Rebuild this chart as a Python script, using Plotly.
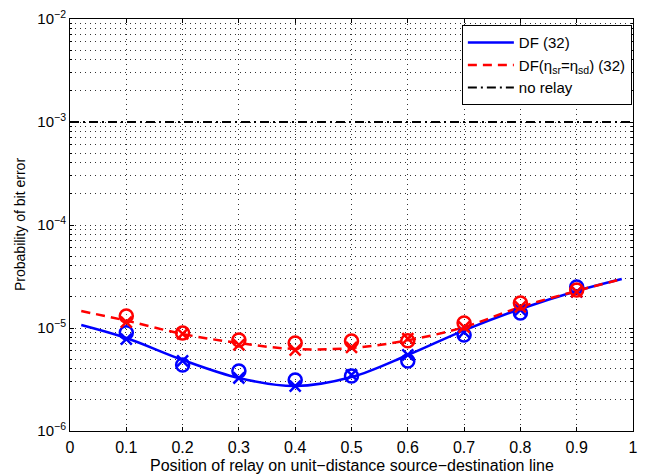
import plotly.graph_objects as go

# Curves (analytic)
x_curve = [0.02, 0.1, 0.2, 0.3, 0.4, 0.5, 0.6, 0.7, 0.8, 0.9, 0.98]
df_curve = [1.07e-5, 8.0e-6, 4.9e-6, 3.27e-6, 2.73e-6, 3.34e-6, 5.47e-6, 9.5e-6, 1.53e-5, 2.29e-5, 2.99e-5]
dfeq_curve = [1.46e-5, 1.18e-5, 8.75e-6, 7.14e-6, 6.25e-6, 6.4e-6, 7.6e-6, 1.02e-5, 1.6e-5, 2.29e-5, 2.99e-5]
x_norelay = [0.0, 1.0]
norelay = [1e-3, 1e-3]

# Markers
x_pts = [0.1, 0.2, 0.3, 0.4, 0.5, 0.6, 0.7, 0.8, 0.9]
df_circ = [9.0e-6, 4.38e-6, 3.83e-6, 3.13e-6, 3.42e-6, 4.79e-6, 8.55e-6, 1.4e-5, 2.5e-5]
df_x = [7.8e-6, 4.8e-6, 3.27e-6, 2.73e-6, 3.5e-6, 5.47e-6, 9.1e-6, 1.5e-5, 2.24e-5]
dfeq_circ = [1.31e-5, 8.93e-6, 7.64e-6, 7.14e-6, 7.47e-6, 7.5e-6, 1.12e-5, 1.75e-5, 2.34e-5]
dfeq_x = [1.14e-5, 8.75e-6, 6.84e-6, 6.1e-6, 6.5e-6, 7.9e-6, 1.02e-5, 1.6e-5, 2.24e-5]

x_ticks = [0, 0.1, 0.2, 0.3, 0.4, 0.5, 0.6, 0.7, 0.8, 0.9, 1]
x_ticklabels = ["0", "0.1", "0.2", "0.3", "0.4", "0.5", "0.6", "0.7", "0.8", "0.9", "1"]
y_ticks = [1e-6, 1e-5, 1e-4, 1e-3, 1e-2]
y_ticklabels = ["10<sup>−6</sup>", "10<sup>−5</sup>", "10<sup>−4</sup>", "10<sup>−3</sup>", "10<sup>−2</sup>"]
x_title = "Position of relay on unit−distance source−destination line"
y_title = "Probability of bit error"

BLUE = "#0000ff"
RED = "#ff0000"

fig = go.Figure()
fig.add_trace(go.Scatter(x=x_curve, y=df_curve, mode="lines", name="DF (32)",
                         line=dict(color=BLUE, width=2.5, shape="spline")))
fig.add_trace(go.Scatter(x=x_curve, y=dfeq_curve, mode="lines",
                         name="DF(η<sub>sr</sub>=η<sub>sd</sub>) (32)",
                         line=dict(color=RED, width=2.5, dash="9px,6px", shape="spline")))
fig.add_trace(go.Scatter(x=x_norelay, y=norelay, mode="lines", name="no relay",
                         line=dict(color="black", width=2, dash="9px,4px,2px,4px")))
fig.add_trace(go.Scatter(x=x_pts, y=df_circ, mode="markers", showlegend=False,
                         marker=dict(symbol="circle-open", size=13, color=BLUE, line=dict(width=2.5))))
fig.add_trace(go.Scatter(x=x_pts, y=df_x, mode="markers", showlegend=False,
                         marker=dict(symbol="x-thin-open", size=11, color=BLUE, line=dict(width=2.5, color=BLUE))))
fig.add_trace(go.Scatter(x=x_pts, y=dfeq_circ, mode="markers", showlegend=False,
                         marker=dict(symbol="circle-open", size=13, color=RED, line=dict(width=2.5))))
fig.add_trace(go.Scatter(x=x_pts, y=dfeq_x, mode="markers", showlegend=False,
                         marker=dict(symbol="x-thin-open", size=11, color=RED, line=dict(width=2.5, color=RED))))

FAM = "Liberation Sans, Arial, Helvetica, sans-serif"
font = dict(family=FAM, size=15, color="black")
grid = dict(showgrid=True, gridcolor="#333333", gridwidth=1, griddash="1px,4px")

fig.update_layout(
    width=646, height=475,
    margin=dict(l=70, r=13, t=19, b=44),
    paper_bgcolor="white", plot_bgcolor="white",
    font=font,
    showlegend=True,
    legend=dict(x=0.998, y=0.985, xanchor="right", yanchor="top",
                bordercolor="black", borderwidth=1, bgcolor="white",
                font=dict(family=FAM, size=15), tracegroupgap=0,
                itemwidth=46, entrywidth=178, entrywidthmode="pixels"),
    xaxis=dict(range=[0, 1], tickvals=x_ticks, ticktext=x_ticklabels,
               ticks="inside", ticklen=4, tickcolor="black", ticklabelstandoff=2,
               tickfont=dict(size=16), automargin=False,
               showline=True, linecolor="black", linewidth=1, mirror="ticks",
               zeroline=False, **grid),
    yaxis=dict(type="log", range=[-6, -2], tickvals=y_ticks, ticktext=y_ticklabels,
               ticks="inside", ticklen=4, tickcolor="black",
               tickfont=dict(size=15), automargin=False,
               showline=True, linecolor="black", linewidth=1, mirror="ticks",
               zeroline=False,
               minor=dict(tickvals=[m * 10.0 ** e for e in range(-6, -2) for m in range(2, 10)],
                          ticks="inside", ticklen=2, tickcolor="black",
                          showgrid=True, gridcolor="#333333", gridwidth=1, griddash="1px,4px"),
               **grid),
    annotations=[
        dict(text=x_title, xref="paper", yref="paper", x=0.5, y=-0.0835,
             xanchor="center", yanchor="middle", showarrow=False, font=dict(size=16)),
        dict(text=y_title, xref="paper", yref="paper", x=-0.0888, y=0.5, textangle=-90,
             xanchor="center", yanchor="middle", showarrow=False, font=dict(size=14)),
    ],
)

fig.write_html("out.html")
